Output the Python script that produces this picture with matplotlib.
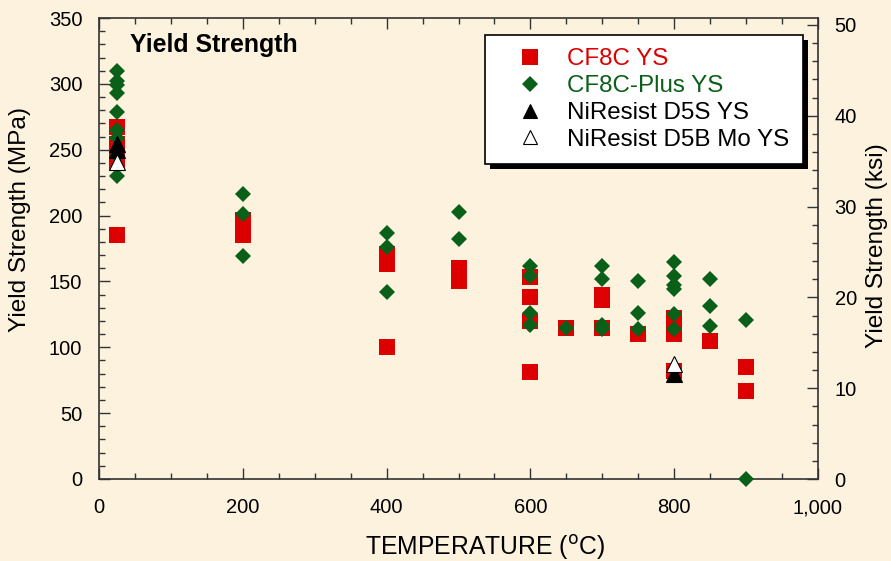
import matplotlib
matplotlib.use("Agg")
import matplotlib.pyplot as plt
from matplotlib.ticker import MultipleLocator, FuncFormatter
from matplotlib.patches import Rectangle
from matplotlib.transforms import IdentityTransform

plt.rcParams['font.family'] = ['Liberation Sans', 'DejaVu Sans']

# ---- data (MPa) ----
cf8c_T = [25, 25, 25, 25, 25, 200, 200, 400, 400, 400, 500, 500,
          600, 600, 600, 600, 650, 700, 700, 700, 750, 800, 800, 800, 850, 900, 900]
cf8c_Y = [267, 254, 246, 240, 185, 197, 185, 171, 163, 100, 160, 150,
          153, 138, 120, 81, 115, 140, 136, 115, 110, 122, 110, 82, 105, 85, 67]

plus_T = [25, 25, 25, 25, 25, 25, 25, 25, 25, 200, 200, 200, 400, 400, 400, 500, 500,
          600, 600, 600, 600, 650, 700, 700, 700, 700, 750, 750, 750,
          800, 800, 800, 800, 800, 800, 850, 850, 850, 900, 900]
plus_Y = [310, 302, 299, 293, 279, 265, 259, 245, 230, 216, 201, 169, 187, 176, 142, 203, 182,
          162, 154, 126, 117, 115, 162, 152, 117, 114, 150, 126, 114,
          165, 154, 147, 144, 125, 114, 152, 131, 116, 121, 0]

d5s_T = [25, 25, 800]
d5s_Y = [254, 250, 80]

d5b_T = [25, 800]
d5b_Y = [241, 87]

labels = ["CF8C YS", "CF8C-Plus YS", "NiResist D5S YS", "NiResist D5B Mo YS"]

RED = '#DD0000'
GREEN = '#0B6019'
BG = '#FCF2DE'

fig = plt.figure(figsize=(8.91, 5.61), dpi=100, facecolor=BG)
ax = fig.add_axes([99/891, 1-479/561, 719/891, 461/561])
ax.set_facecolor(BG)

h1, = ax.plot(cf8c_T, cf8c_Y, 's', color=RED, ms=11.5, mew=0, ls='none', label=labels[0], zorder=3)
h2, = ax.plot(plus_T, plus_Y, 'D', color=GREEN, ms=8.6, mew=0, ls='none', label=labels[1], zorder=4,
              clip_on=False)
h3, = ax.plot(d5s_T, d5s_Y, '^', color='black', ms=11, mew=0.8, mec='black', ls='none', label=labels[2], zorder=5)
h4, = ax.plot(d5b_T, d5b_Y, '^', color='white', ms=11, mew=0.8, mec='black', ls='none', label=labels[3], zorder=6)

ax.set_xlim(0, 1000)
ax.set_ylim(0, 350)
ax.xaxis.set_major_locator(MultipleLocator(200))
ax.xaxis.set_minor_locator(MultipleLocator(50))
ax.yaxis.set_major_locator(MultipleLocator(50))
ax.yaxis.set_minor_locator(MultipleLocator(10))
ax.xaxis.set_major_formatter(FuncFormatter(lambda v, p: f"{int(v):,}"))
ax.tick_params(which='both', direction='in', top=True, right=False, colors='#333333',
               labelcolor='black', labelsize=14.5, width=1.0)
ax.tick_params(which='major', length=8)
ax.tick_params(which='minor', length=4)
ax.tick_params(axis='x', which='major', pad=14)
ax.tick_params(axis='y', which='major', pad=12)
for s in ax.spines.values():
    s.set_color('#333333')
    s.set_linewidth(1.2)

ax.set_xlabel("TEMPERATURE ($^{\\mathrm{o}}$C)", fontsize=17.8)
ax.xaxis.set_label_coords((485 - 99) / 719, (479 - 533) / 461)
ax.set_ylabel("Yield Strength (MPa)", fontsize=17.6)
ax.yaxis.set_label_coords((31 - 99) / 719, (479 - 220) / 461)

ax2 = ax.twinx()
ax2.set_ylim(0, 350 / 6.894757)
ax2.yaxis.set_major_locator(MultipleLocator(10))
ax2.yaxis.set_minor_locator(MultipleLocator(2))
ax2.tick_params(which='both', direction='in', colors='#333333', labelcolor='black', labelsize=14.5, width=1.0)
ax2.tick_params(which='major', length=8, pad=12)
ax2.tick_params(which='minor', length=4)
ax2.set_ylabel("Yield Strength (ksi)", fontsize=17.6)
ax2.yaxis.set_label_coords((866 - 99) / 719, (479 - 246) / 461)
for s in ax2.spines.values():
    s.set_visible(False)

ax.text(0.043, 0.941, "Yield Strength", transform=ax.transAxes, fontsize=17.9, fontweight='bold',
        ha='left', va='center')

leg = ax2.legend(handles=[h1, h2, h3, h4], loc='upper left',
                 bbox_to_anchor=((485-99)/719, (479-35)/461), borderaxespad=0,
                 fontsize=17.4, frameon=True, fancybox=False, edgecolor='black',
                 framealpha=1, facecolor='white', labelspacing=0.2, handletextpad=0.26,
                 borderpad=0.55, handlelength=2.6, markerscale=0.95)
leg.get_frame().set_linewidth(1.2)
for t, c in zip(leg.get_texts(), [RED, GREEN, 'black', 'black']):
    t.set_color(c)
leg.set_zorder(20)
ax.set_zorder(1)
ax2.set_zorder(2)
ax2.patch.set_visible(False)

fig.canvas.draw()
bb = leg.get_window_extent()
off = 5
shadow = Rectangle((bb.x0 + off, bb.y0 - off), bb.width, bb.height,
                   facecolor='black', edgecolor='none', zorder=19, clip_on=False)
shadow.set_transform(IdentityTransform())
ax2.add_artist(shadow)

fig.savefig("out.png", dpi=100, facecolor=BG)
